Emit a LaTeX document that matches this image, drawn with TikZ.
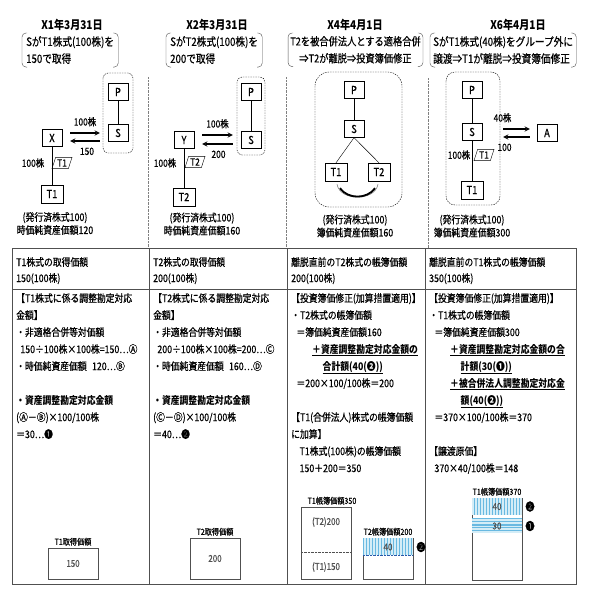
\documentclass[tikz,border=0pt]{standalone}
\usepackage{fontspec}
\setmainfont{Noto Sans CJK JP}[FakeStretch=0.84,UprightFeatures={FakeBold=0.5}]
\usepackage{tikz}
\usetikzlibrary{shapes.geometric,patterns,positioning}

\definecolor{keisen}{RGB}{80,80,80}
\definecolor{mizu}{RGB}{105,185,225}
\definecolor{usumizu}{RGB}{212,237,247}
\definecolor{kon}{RGB}{40,90,170}

\begin{document}
\begin{tikzpicture}[x=1pt,y=1pt]

    \tikzset{hojin/.style = {shape=rectangle,draw,thin,minimum width=20pt,minimum height=17pt,inner sep=0pt,font=\fontsize{11}{11}\selectfont}}
    \tikzset{kogaisha/.style = {hojin,minimum width=22pt,minimum height=18pt}}
    \tikzset{kabuken/.style = {shape=trapezium,draw,thin,trapezium left angle=72,trapezium right angle=108,inner xsep=1.5pt,inner ysep=2pt,font=\fontsize{10}{10}\selectfont}}
    \tikzset{kabusu/.style = {inner sep=0pt,font=\fontsize{10}{10}\selectfont}}
    \tikzset{yaji/.style = {->,>=stealth,line width=1.3pt,shorten <=8pt,shorten >=8pt}}
    \tikzset{gurupu/.style = {draw,thin,dash pattern=on 1.5pt off 1pt,rounded corners=5pt}}
    \tikzset{hiduke/.style = {inner sep=0pt,font=\bfseries\fontsize{12}{12}\selectfont}}
    \tikzset{naiyo/.style = {inner xsep=4pt,inner ysep=3pt,align=left,font=\fontsize{11.5}{17}\selectfont}}
    \tikzset{kakko/.style = {thin,keisen,rounded corners=4pt}}
    \tikzset{chushaku/.style = {inner sep=0pt,align=center,font=\fontsize{10.5}{13}\selectfont}}
    \tikzset{kugiri/.style = {gray,densely dotted}}
    \tikzset{waku/.style = {keisen,line width=0.7pt}}
    \tikzset{koumoku/.style = {anchor=north west,inner sep=0pt,align=left,font=\fontsize{10.5}{16}\selectfont}}
    \tikzset{honbun/.style = {anchor=north west,inner sep=0pt,align=left,font=\fontsize{10.5}{17}\selectfont}}
    \tikzset{bou/.style = {draw,keisen,thin,minimum width=50pt,inner sep=0pt,font=\fontsize{9.5}{9.5}\selectfont}}
    \tikzset{boumei/.style = {inner sep=0pt,font=\fontsize{8.5}{8.5}\selectfont}}
    \tikzset{maru/.style = {inner sep=0pt,font=\fontsize{11}{11}\selectfont}}

    \fill[white] (0,0) rectangle (589,-597);
    \useasboundingbox (0,0) rectangle (589,-597);


    %見出し
    \node[hiduke] (hiduke1) at (72,-25) {X1年3月31日};
    \node[hiduke] (hiduke2) at (217,-25) {X2年3月31日};
    \node[hiduke] (hiduke3) at (355,-25) {X4年4月1日};
    \node[hiduke] (hiduke4) at (518,-25) {X6年4月1日};

    \node[naiyo,anchor=north west] (naiyo1) at (22,-33) {SがT1株式(100株)を\\150で取得};
    \node[naiyo,anchor=north west] (naiyo2) at (166,-33) {SがT2株式(100株)を\\200で取得};
    \node[naiyo,anchor=north,align=center,inner xsep=2pt,font=\fontsize{11}{17}\selectfont] (naiyo3) at (355.5,-33) {T2を被合併法人とする適格合併\\⇒T2が離脱⇒投資簿価修正};
    \node[naiyo,anchor=north west,inner xsep=3pt] (naiyo4) at (430,-33) {SがT1株式(40株)をグループ外に\\譲渡⇒T1が離脱⇒投資簿価修正};
    \draw[kakko] ([xshift=5pt]naiyo1.north west) -- (naiyo1.north west) -- (naiyo1.south west) -- ([xshift=5pt]naiyo1.south west)
        ([xshift=-5pt]naiyo1.north east) -- (naiyo1.north east) -- (naiyo1.south east) -- ([xshift=-5pt]naiyo1.south east);
    \draw[kakko] ([xshift=5pt]naiyo2.north west) -- (naiyo2.north west) -- (naiyo2.south west) -- ([xshift=5pt]naiyo2.south west)
        ([xshift=-5pt]naiyo2.north east) -- (naiyo2.north east) -- (naiyo2.south east) -- ([xshift=-5pt]naiyo2.south east);
    \draw[kakko] ([xshift=5pt]naiyo3.north west) -- (naiyo3.north west) -- (naiyo3.south west) -- ([xshift=5pt]naiyo3.south west)
        ([xshift=-5pt]naiyo3.north east) -- (naiyo3.north east) -- (naiyo3.south east) -- ([xshift=-5pt]naiyo3.south east);
    \draw[kakko] ([xshift=5pt]naiyo4.north west) -- (naiyo4.north west) -- (naiyo4.south west) -- ([xshift=5pt]naiyo4.south west)
        ([xshift=-5pt]naiyo4.north east) -- (naiyo4.north east) -- (naiyo4.south east) -- ([xshift=-5pt]naiyo4.south east);

    \draw[kugiri] (148,-77) -- (148,-248);
    \draw[kugiri] (286,-77) -- (286,-248);
    \draw[kugiri] (428,-78) -- (428,-248);


    %X1年 T1株式の取得
    \draw[gurupu] (103,-73) rectangle (133,-153);
    \node [hojin] (P1) at (118,-92) {P};
    \node [hojin] (S1) at (118,-133) {S};
    \node [hojin] (X) at (52,-138) {X};
    \node [kogaisha] (T1a) at (52,-194) {T1};
    \draw (P1) -- (S1);
    \draw (X) -- (T1a);
    \node [kabusu] (su1) at (33,-163) {100株};
    \node [kabuken] (ken1) at (62,-163) {T1};
    \draw [yaji] ([yshift=5pt]X.east) -- ([yshift=5pt]X.east -| S1.west)
        node [kabusu,midway,above=6pt] {100株};
    \draw [yaji] ([yshift=-3pt]X.east -| S1.west) -- ([yshift=-3pt]X.east)
        node [kabusu,midway,below=6pt,xshift=2pt] {150};
    \node [chushaku] (chu1) at (55,-223.5) {(発行済株式100)\\時価純資産価額120};


    %X2年 T2株式の取得
    \draw[gurupu] (237,-77) rectangle (265,-155);
    \node [hojin] (P2) at (251,-92) {P};
    \node [hojin] (S2) at (251,-140) {S};
    \node [hojin] (Y) at (184,-140) {Y};
    \node [kogaisha] (T2b) at (184,-197) {T2};
    \draw (P2) -- (S2);
    \draw (Y) -- (T2b);
    \node [kabusu] (su2) at (165,-163) {100株};
    \node [kabuken] (ken2) at (195,-162) {T2};
    \draw [yaji] ([yshift=5pt]Y.east) -- ([yshift=5pt]Y.east -| S2.west)
        node [kabusu,midway,above=6pt] {100株};
    \draw [yaji] ([yshift=-4pt]Y.east -| S2.west) -- ([yshift=-4pt]Y.east)
        node [kabusu,midway,below=6pt,xshift=1pt] {200};
    \node [chushaku] (chu2) at (202,-224) {(発行済株式100)\\時価純資産価額160};


    %X4年 適格合併
    \draw[gurupu,rounded corners=14pt] (315,-72) rectangle (402,-207);
    \node [hojin] (P3) at (354,-90) {P};
    \node [hojin] (S3) at (354,-129) {S};
    \node [kogaisha] (T1c) at (336,-172) {T1};
    \node [kogaisha] (T2c) at (379,-172) {T2};
    \draw (P3) -- (S3);
    \draw (S3.south) -- (T1c.north);
    \draw (S3.south) -- (T2c.north);
    \draw [gray,line width=0.6pt] ([shift={(1,-3)}]T1c.south)
        to [out=-80,in=-100,looseness=1.1] ([shift={(-1,-3)}]T2c.south);
    \draw [line width=1.8pt] ([shift={(4,-7)}]T1c.south)
        to [out=-55,in=-125] ([shift={(-4,-7)}]T2c.south);
    \node [chushaku] (chu3) at (355,-226) {(発行済株式100)\\簿価純資産価額160};


    %X6年 T1株式の譲渡
    \draw[gurupu,rounded corners=9pt] (446,-72) rectangle (500,-205);
    \node [hojin] (P4) at (472,-90) {P};
    \node [hojin] (S4) at (472,-132) {S};
    \node [kogaisha] (T1d) at (472,-190) {T1};
    \node [hojin] (A) at (547,-133) {A};
    \draw (P4) -- (S4);
    \draw (S4) -- (T1d);
    \node [kabusu] (su4) at (459,-155) {100株};
    \node [kabuken] (ken4) at (484,-155) {T1};
    \draw [yaji,shorten <=21pt,shorten >=7pt] ([yshift=3pt]S4.east) -- ([yshift=3pt]S4.east -| A.west)
        node [kabusu,midway,above=6pt,xshift=-7pt] {40株};
    \draw [yaji,shorten <=7pt,shorten >=21pt] ([yshift=-5pt]S4.east -| A.west) -- ([yshift=-5pt]S4.east)
        node [kabusu,midway,below=6pt,xshift=-5pt] {100};
    \node [chushaku] (chu4) at (472,-226) {(発行済株式100)\\簿価純資産価額300};


    %表
    \draw[waku] (12,-248) rectangle (576,-584);
    \draw[waku] (12,-289) -- (576,-289);
    \draw[waku] (149,-248) -- (149,-584);
    \draw[waku] (287,-248) -- (287,-584);
    \draw[waku] (425,-248) -- (425,-584);

    \node [koumoku] (koumoku1) at (16,-257) {T1株式の取得価額\\150(100株)};
    \node [koumoku] (koumoku2) at (153,-257) {T2株式の取得価額\\200(100株)};
    \node [koumoku] (koumoku3) at (291,-257) {離脱直前のT2株式の帳簿価額\\200(100株)};
    \node [koumoku] (koumoku4) at (429,-257) {離脱直前のT1株式の帳簿価額\\350(100株)};

    \node [honbun] (honbun1) at (16,-293) {【T1株式に係る調整勘定対応\\金額】\\・非適格合併等対価額\\
        \hspace*{0.4em}150÷100株×100株=150…Ⓐ\\・時価純資産価額\hspace{0.5em}120…Ⓑ\\\mbox{}\\
        \textbf{・資産調整勘定対応金額}\\(Ⓐ－Ⓑ)×100/100株\\＝30…❶};
    \node [honbun] (honbun2) at (153,-293) {【T2株式に係る調整勘定対応\\金額】\\・非適格合併等対価額\\
        \hspace*{0.4em}200÷100株×100株=200…Ⓒ\\・時価純資産価額\hspace{0.5em}160…Ⓓ\\\mbox{}\\
        \textbf{・資産調整勘定対応金額}\\(Ⓒ－Ⓓ)×100/100株\\＝40…❷};
    \node [honbun] (honbun3) at (291,-293) {【投資簿価修正(加算措置適用)】\\・T2株式の帳簿価額\\
        \hspace*{0.5em}＝簿価純資産価額160\\
        \hspace*{2em}\underline{\textbf{＋資産調整勘定対応金額の}}\\
        \hspace*{3em}\underline{\textbf{合計額(40(❷))}}\\
        \hspace*{0.5em}＝200×100/100株＝200\\\mbox{}\\
        【T1(合併法人)株式の帳簿価額\\に加算】\\
        \hspace*{0.8em}T1株式(100株)の帳簿価額\\\hspace*{0.8em}150＋200＝350};
    \node [honbun] (honbun4) at (429,-293) {【投資簿価修正(加算措置適用)】\\・T1株式の帳簿価額\\
        \hspace*{0.5em}＝簿価純資産価額300\\
        \hspace*{2em}\underline{\textbf{＋資産調整勘定対応金額の合}}\\
        \hspace*{3em}\underline{\textbf{計額(30(❶))}}\\
        \hspace*{2em}\underline{\textbf{＋被合併法人調整勘定対応金}}\\
        \hspace*{3em}\underline{\textbf{額(40(❷))}}\\
        \hspace*{0.5em}＝370×100/100株＝370\\\mbox{}\\
        【譲渡原価】\\\hspace*{0.5em}370×40/100株＝148};


    %帳簿価額の図
    \node [bou,minimum height=31pt] (bou1) at (73,-563.5) {150};
    \node [boumei,above=2pt of bou1] (boumei1) {T1取得価額};

    \node [bou,minimum height=41pt] (bou2) at (215,-558.5) {200};
    \node [boumei,above=2pt of bou2] (boumei2) {T2取得価額};

    \node [bou,minimum height=72pt] (bou3) at (326,-543) {};
    \node [boumei,above=2pt of bou3,xshift=6pt] (boumei3) {T1帳簿価額350};
    \draw [keisen,densely dotted] ([yshift=-45pt]bou3.north west) -- ([yshift=-45pt]bou3.north east);
    \node [bou,draw=none] (bou3ue) at (326,-522) {(T2)200};
    \node [bou,draw=none] (bou3shita) at (326,-567) {(T1)150};

    \node [bou,minimum height=41pt] (bou4) at (388,-558.5) {};
    \fill [usumizu] ([shift={(0.4pt,-0.4pt)}]bou4.north west) rectangle ([shift={(-0.4pt,-17pt)}]bou4.north east);
    \fill [pattern=vertical lines,pattern color=mizu] ([shift={(0.4pt,-0.4pt)}]bou4.north west) rectangle ([shift={(-0.4pt,-17pt)}]bou4.north east);
    \draw [kon,densely dotted] ([yshift=-17pt]bou4.north west) -- ([yshift=-17pt]bou4.north east);
    \node [bou,draw=none] (bou4su) at (388,-547) {40};
    \node [maru] (bou4maru) at (421,-547) {❷};
    \node [boumei,above=2pt of bou4] (boumei4) {T2帳簿価額200};

    \node [bou,minimum height=82pt] (bou5) at (497,-539) {};
    \fill [usumizu] ([shift={(0.4pt,-0.4pt)}]bou5.north west) rectangle ([shift={(-0.4pt,-17pt)}]bou5.north east);
    \fill [pattern=vertical lines,pattern color=mizu] ([shift={(0.4pt,-0.4pt)}]bou5.north west) rectangle ([shift={(-0.4pt,-17pt)}]bou5.north east);
    \fill [usumizu] ([shift={(0.4pt,-20pt)}]bou5.north west) rectangle ([shift={(-0.4pt,-35pt)}]bou5.north east);
    \fill [pattern=horizontal lines,pattern color=mizu] ([shift={(0.4pt,-20pt)}]bou5.north west) rectangle ([shift={(-0.4pt,-35pt)}]bou5.north east);
    \draw [mizu,line width=1pt] ([yshift=-27.5pt]bou5.north west) -- ([yshift=-27.5pt]bou5.north east);
    \node [bou,draw=none] (bou5ue) at (497,-506.5) {40};
    \node [bou,draw=none] (bou5naka) at (497,-526) {30};
    \node [maru] (bou5maru2) at (530,-506.5) {❷};
    \node [maru] (bou5maru1) at (530,-526) {❶};
    \node [boumei,above=2pt of bou5] (boumei5) {T1帳簿価額370};

\end{tikzpicture}
\end{document}
